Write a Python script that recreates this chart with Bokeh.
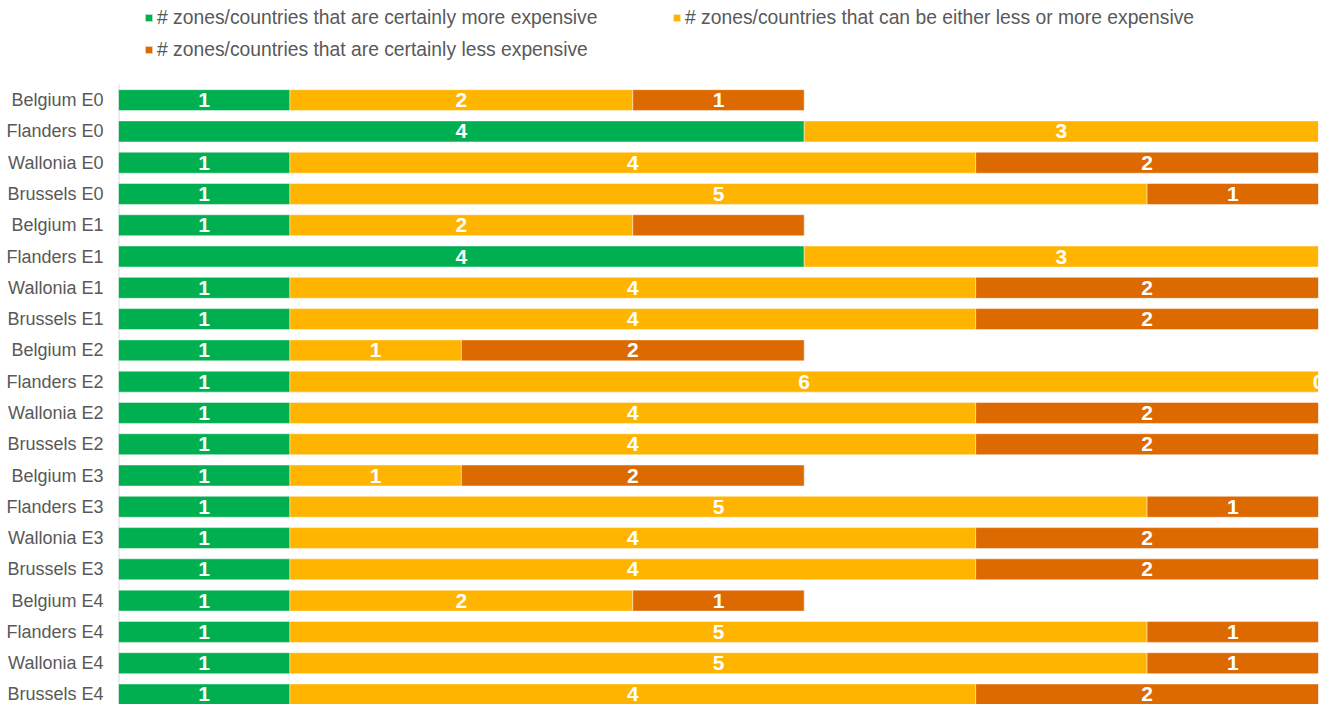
from bokeh.plotting import figure
from bokeh.models import ColumnDataSource, Range1d, FixedTicker, Legend, LegendItem
from bokeh.core.properties import value
from bokeh.embed import file_html
from bokeh.resources import INLINE

categories = ["Belgium E0", "Flanders E0", "Wallonia E0", "Brussels E0",
              "Belgium E1", "Flanders E1", "Wallonia E1", "Brussels E1",
              "Belgium E2", "Flanders E2", "Wallonia E2", "Brussels E2",
              "Belgium E3", "Flanders E3", "Wallonia E3", "Brussels E3",
              "Belgium E4", "Flanders E4", "Wallonia E4", "Brussels E4"]
more_expensive = [1, 4, 1, 1, 1, 4, 1, 1, 1, 1, 1, 1, 1, 1, 1, 1, 1, 1, 1, 1]
either = [2, 3, 4, 5, 2, 3, 4, 4, 1, 6, 4, 4, 1, 5, 4, 4, 2, 5, 5, 4]
less_expensive = [1, 0, 2, 1, 1, 0, 2, 2, 2, 0, 2, 2, 2, 1, 2, 2, 1, 1, 1, 2]
more_labels = [str(v) for v in more_expensive]
either_labels = [str(v) for v in either]
less_labels = ["1", "", "2", "1", "", "", "2", "2", "2", "0", "2", "2",
               "2", "1", "2", "2", "1", "1", "1", "2"]
series_names = ["# zones/countries that are certainly more expensive",
                "# zones/countries that can be either less or more expensive",
                "# zones/countries that are certainly less expensive"]

colors = ["#00B050", "#FFB500", "#DD6A00"]
FONT = "Liberation Sans"

ypos = list(range(len(categories)))
left1 = [0] * len(categories)
right1 = [a for a in more_expensive]
right2 = [a + b for a, b in zip(more_expensive, either)]
right3 = [a + b + c for a, b, c in zip(more_expensive, either, less_expensive)]

src = ColumnDataSource(dict(
    y=ypos, l1=left1, r1=right1, r2=right2, r3=right3,
    c1=[(a + b) / 2 for a, b in zip(left1, right1)],
    c2=[(a + b) / 2 for a, b in zip(right1, right2)],
    c3=[(a + b) / 2 for a, b in zip(right2, right3)],
    t1=more_labels, t2=either_labels, t3=less_labels,
))

W, HGT = 1321, 704
FRAME_L, FRAME_R = 118, 3
PITCH = 31.28          # pixels per category row
TOP_GAP = 84           # pixels above the first row's band (legend area)
y_bottom = -0.5 + (HGT - TOP_GAP) / PITCH
y_top = -0.5 - TOP_GAP / PITCH

p = figure(width=W, height=HGT, output_backend="svg", toolbar_location=None,
           x_range=Range1d(0, 7), y_range=Range1d(y_bottom, y_top),
           x_axis_location=None, min_border_left=FRAME_L, min_border_right=FRAME_R,
           min_border_top=0, min_border_bottom=0)
p.outline_line_color = None
p.xgrid.visible = False
p.ygrid.visible = False

# vertical category axis line (only along the category band)
p.segment(x0=[0], y0=[-0.5], x1=[0], y1=[y_bottom], line_color="#D9D9D9", line_width=2)

H = 0.67
common = dict(height=H, source=src, line_color="white", line_alpha=0.45, line_width=1)
r1 = p.hbar(y="y", left="l1", right="r1", fill_color=colors[0], **common)
r2 = p.hbar(y="y", left="r1", right="r2", fill_color=colors[1], **common)
r3 = p.hbar(y="y", left="r2", right="r3", fill_color=colors[2], **common)

for cx, tx in (("c1", "t1"), ("c2", "t2"), ("c3", "t3")):
    p.text(x=cx, y="y", text=tx, source=src, text_color="white",
           text_font=value(FONT), text_font_style="bold", text_font_size="21px",
           text_align="center", text_baseline="middle")

ax = p.yaxis[0]
ax.ticker = FixedTicker(ticks=ypos)
ax.major_label_overrides = {i: c for i, c in enumerate(categories)}
ax.major_tick_line_color = None
ax.minor_tick_line_color = None
ax.major_tick_out = 0
ax.major_tick_in = 0
ax.major_label_standoff = 15
ax.axis_line_color = None
ax.major_label_text_font = FONT
ax.major_label_text_font_size = "18px"
ax.major_label_text_color = "#595959"

LEG_H = 22 * 2 + 10
legend = Legend(items=[LegendItem(label=series_names[0], renderers=[r1]),
                       LegendItem(label=series_names[1], renderers=[r2]),
                       LegendItem(label=series_names[2], renderers=[r3])],
                location=(26, HGT - (6.5 + LEG_H)),
                orientation="horizontal", ncols=2,
                glyph_width=9, glyph_height=9, label_standoff=4,
                label_height=22, label_width=505, spacing=10,
                padding=0, margin=0, border_line_color=None,
                background_fill_alpha=0,
                label_text_font=FONT, label_text_font_size="19.3px",
                label_text_color="#595959")
p.add_layout(legend, "center")

open("out.html", "w").write(file_html(p, INLINE))
